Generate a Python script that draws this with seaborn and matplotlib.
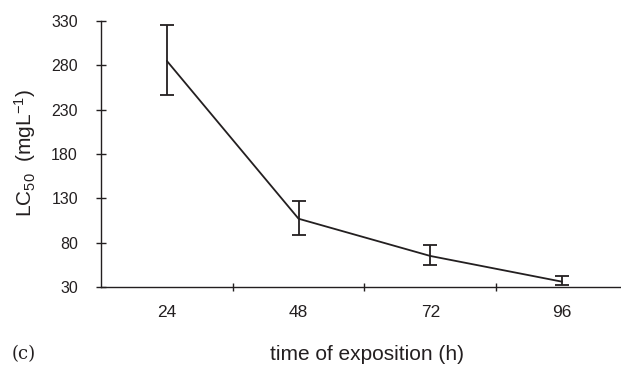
import numpy as np
import pandas as pd
import matplotlib
matplotlib.use("Agg")
import matplotlib.pyplot as plt
import seaborn as sns

# data
hours = ["24", "48", "72", "96"]
lc50 = [285, 107, 65, 36]
err_up = [41, 20, 12, 6]
err_down = [38, 18, 10, 4]
y_ticks = [30, 80, 130, 180, 230, 280, 330]

sns.set_theme(style="white")
plt.rcParams["font.family"] = ["Liberation Sans", "DejaVu Sans"]
plt.rcParams["mathtext.default"] = "regular"

df = pd.DataFrame({"pos": np.arange(len(hours)), "lc50": lc50})

fig = plt.figure(figsize=(6.21, 3.65), dpi=100)
ax = fig.add_axes([0.1626, 0.2137, 0.84, 0.7288])

sns.lineplot(data=df, x="pos", y="lc50", color="#231f20", linewidth=1.3, ax=ax)
ax.errorbar(df["pos"], df["lc50"], yerr=[err_down, err_up], fmt="none",
            ecolor="#231f20", elinewidth=1.3, capsize=5, capthick=1.3)

ax.set_xlim(-0.5, 3.46)
ax.set_ylim(30, 330)
ax.set_yticks(y_ticks)
ax.set_xticks(df["pos"])
ax.set_xticklabels(hours)
ax.set_xticks(np.arange(0.5, 3.0, 1.0), minor=True)

for s in ["top", "right"]:
    ax.spines[s].set_visible(False)
for s in ["left", "bottom"]:
    ax.spines[s].set_color("#231f20")
    ax.spines[s].set_linewidth(1.0)

ax.tick_params(axis="y", which="major", direction="inout", length=7.2, width=1.0,
               color="#231f20", labelsize=11.5, labelcolor="#231f20", pad=13, left=True)
ax.tick_params(axis="x", which="major", length=0, labelsize=12.5,
               labelcolor="#231f20", pad=13)
ax.tick_params(axis="x", which="minor", direction="inout", length=5.3, width=1.0,
               color="#231f20", bottom=True)

ax.set_xlabel("")
ax.set_ylabel("")
fig.text(0.04, 0.58, "LC$_{50}$  (mgL$^{-1}$)", fontsize=15, color="#231f20",
         rotation=90, ha="center", va="center")

fig.text(0.591, 0.03, "time of exposition (h)", fontsize=15, color="#231f20",
         ha="center", va="center")
fig.text(0.018, 0.03, "(c)", fontsize=13, color="#231f20", family="DejaVu Serif",
         ha="left", va="center")

fig.savefig("out.png", dpi=100, facecolor="white")
